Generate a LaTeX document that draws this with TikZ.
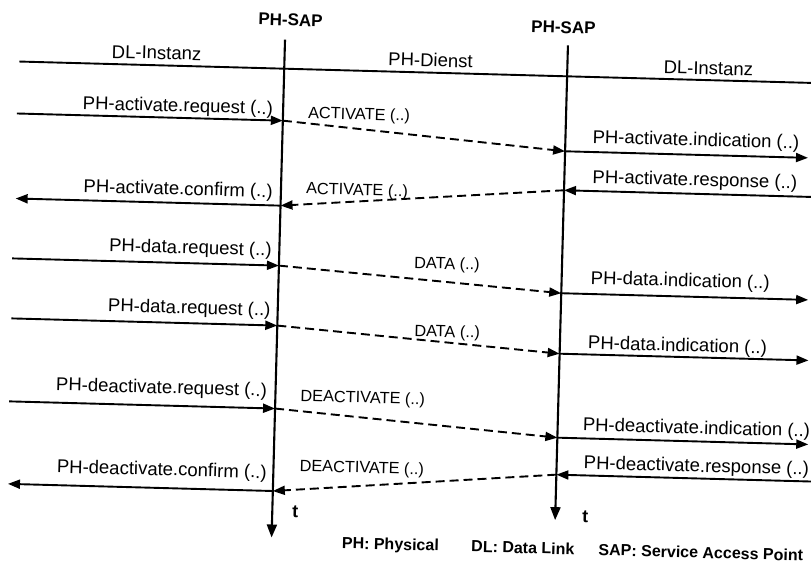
\documentclass[tikz,border=0pt]{standalone}
\usepackage{fontspec}
\setmainfont{Liberation Sans}
\usetikzlibrary{arrows.meta}
\begin{document}
\begin{tikzpicture}[x=1pt,y=-1pt,
  lbl/.style={font=\fontsize{18.5}{22}\selectfont, inner sep=0pt, transform shape},
  dlbl/.style={font=\fontsize{16.3}{19}\selectfont, inner sep=0pt, transform shape},
  hdr/.style={font=\fontsize{17}{20}\selectfont\bfseries, inner sep=0pt, transform shape},
  leg/.style={font=\fontsize{16}{19}\selectfont\bfseries, inner sep=0pt, transform shape},
  msg/.style={line width=1.9pt, -{Triangle[length=12pt,width=9pt]}},
  dmsg/.style={msg, dash pattern=on 9pt off 5pt},
  life/.style={line width=2.1pt, -{Triangle[length=13pt,width=10pt]}}]
\useasboundingbox (0,0) rectangle (811,564);
\begin{scope}[rotate=-1.547]
% lifelines and header line
\coordinate (Ltop) at (286,32); \coordinate (Lbot) at (286,530);
\coordinate (Rtop) at (569,30); \coordinate (Rbot) at (569,505);
\coordinate (Hl) at (21,61); \coordinate (Hr) at (830,61);
\draw[line width=1.9pt] (Hl) -- (Hr);
\draw[life] (Ltop) -- (Lbot);
\draw[life] (Rtop) -- (Rbot);
% headers
\node[hdr, anchor=base] (sapL) at (291,18) {PH-SAP};
\node[hdr, anchor=base] (sapR) at (564,18) {PH-SAP};
\node[lbl, anchor=base] (dlL) at (158,55) {DL-Instanz};
\node[lbl, anchor=base] (phd) at (432,55) {PH-Dienst};
\node[lbl, anchor=base] (dlR) at (710,55.5) {DL-Instanz};
% message points
\coordinate (e1) at (20,113);   \coordinate (L1) at (286,113);
\coordinate (R1) at (569,136);  \coordinate (f1) at (812,136);
\coordinate (f2) at (822,175);  \coordinate (R2) at (569,175);
\coordinate (L2) at (286,198);  \coordinate (e2) at (21,198);
\coordinate (e3) at (19,258);   \coordinate (L3) at (286,258);
\coordinate (R3) at (569,278);  \coordinate (f3) at (816,278);
\coordinate (e4) at (20,318);   \coordinate (L4) at (286,318);
\coordinate (R4) at (569,338.5);\coordinate (f4) at (818,338.5);
\coordinate (e5) at (20,401);   \coordinate (L5) at (286,401);
\coordinate (R5) at (569,422.5);\coordinate (f5) at (820,422.5);
\coordinate (f6) at (830,459.5);\coordinate (R6) at (569,459.5);
\coordinate (L6) at (286,483.5);\coordinate (e6) at (21,483.5);
% activate
\draw[msg] (e1) -- (L1);
\draw[dmsg] (L1) -- (R1);
\draw[msg] (R1) -- (f1);
\draw[msg] (f2) -- (R2);
\draw[dmsg] (R2) -- (L2);
\draw[msg] (L2) -- (e2);
% data
\draw[msg] (e3) -- (L3);
\draw[dmsg] (L3) -- (R3);
\draw[msg] (R3) -- (f3);
\draw[msg] (e4) -- (L4);
\draw[dmsg] (L4) -- (R4);
\draw[msg] (R4) -- (f4);
% deactivate
\draw[msg] (e5) -- (L5);
\draw[dmsg] (L5) -- (R5);
\draw[msg] (R5) -- (f5);
\draw[msg] (f6) -- (R6);
\draw[dmsg] (R6) -- (L6);
\draw[msg] (L6) -- (e6);
% left labels
\node[lbl, anchor=base east] (t1) at (276,107) {PH-activate.request (..)};
\node[lbl, anchor=base east] (t2) at (278,190) {PH-activate.confirm (..)};
\node[lbl, anchor=base east] (t3) at (278.5,248.5) {PH-data.request (..)};
\node[lbl, anchor=base east] (t4) at (279,308.5) {PH-data.request (..)};
\node[lbl, anchor=base east] (t5) at (277.5,389) {PH-deactivate.request (..)};
\node[lbl, anchor=base east] (t6) at (279.5,471) {PH-deactivate.confirm (..)};
% right labels
\node[lbl, anchor=base west] (s1) at (596,127) {PH-activate.indication (..)};
\node[lbl, anchor=base west] (s2) at (597,167) {PH-activate.response (..)};
\node[lbl, anchor=base west] (s3) at (598,268) {PH-data.indication (..)};
\node[lbl, anchor=base west] (s4) at (597,333) {PH-data.indication (..)};
\node[lbl, anchor=base west] (s5) at (594,415) {PH-deactivate.indication (..)};
\node[lbl, anchor=base west] (s6) at (596,453) {PH-deactivate.response (..)};
% dashed labels
\node[dlbl, anchor=base west] (d1) at (311,110) {ACTIVATE (..)};
\node[dlbl, anchor=base west] (d2) at (311,185.5) {ACTIVATE (..)};
\node[dlbl, anchor=base] (d3) at (454,257) {DATA (..)};
\node[dlbl, anchor=base] (d4) at (456,325) {DATA (..)};
\node[dlbl, anchor=base west] (d5) at (311,393) {DEACTIVATE (..)};
\node[dlbl, anchor=base west] (d6) at (312,463) {DEACTIVATE (..)};
% time labels
\node[hdr, anchor=base, font=\fontsize{18}{20}\selectfont\bfseries] (tL) at (309,509) {t};
\node[hdr, anchor=base, font=\fontsize{18}{20}\selectfont\bfseries] (tR) at (599,507) {t};
% legend
\node[leg, anchor=base] (g1) at (405,539) {PH: Physical};
\node[leg, anchor=base] (g2) at (537.5,539) {DL: Data Link};
\node[leg, anchor=base] (g3) at (715.5,539) {SAP: Service Access Point};
\end{scope}
\end{tikzpicture}
\end{document}
